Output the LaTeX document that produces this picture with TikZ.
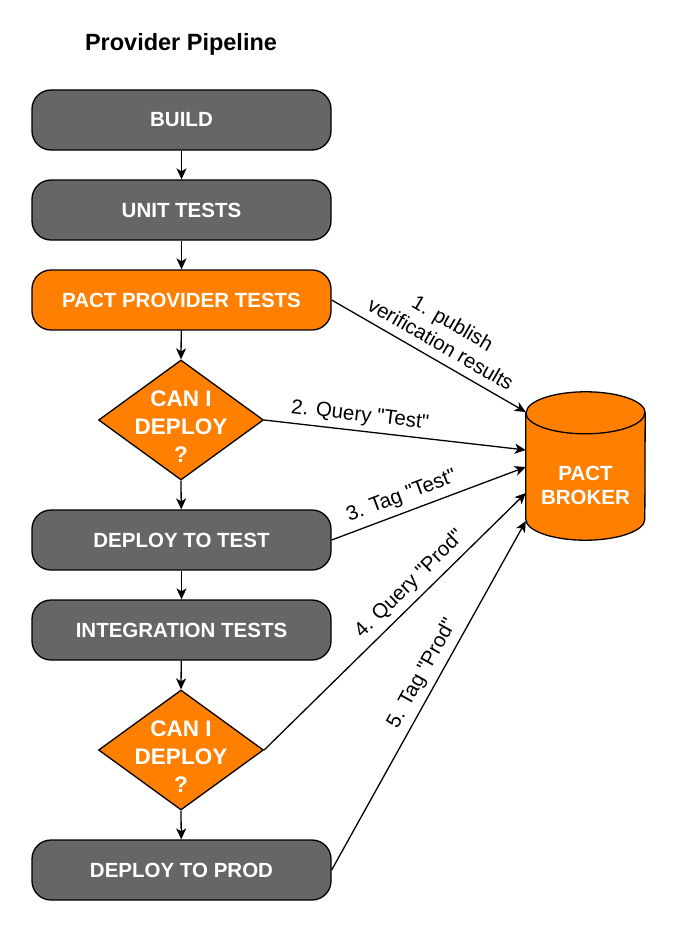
\documentclass[tikz,border=0pt]{standalone}
\usepackage{fontspec}
\setmainfont{Liberation Sans}
\newfontfamily\lblfont{Liberation Sans}
\usetikzlibrary{shapes.geometric,arrows.meta,calc}
\definecolor{pgray}{HTML}{666666}
\definecolor{porange}{HTML}{FF8000}
\begin{document}
\begin{tikzpicture}[x=1pt,y=1pt,
  box/.style={draw=black, line width=1.3pt, rounded corners=19pt, minimum width=299pt, minimum height=60pt, inner sep=0pt, text=white, font=\fontsize{20.5}{24}\selectfont\bfseries},
  grayb/.style={box, fill=pgray},
  orangeb/.style={box, fill=porange},
  dia/.style={diamond, draw=black, line width=1.3pt, fill=porange, minimum width=165pt, minimum height=120pt, inner sep=0pt},
  diatext/.style={text=white, align=center, font=\fontsize{22.5}{28}\selectfont\bfseries, inner sep=0pt},
  flow/.style={draw=black, line width=1.3pt, -{Stealth[length=11pt,width=10pt,inset=3pt]}},
  lbl/.style={font=\lblfont\fontsize{20.5}{24}\selectfont, sloped, inner sep=1pt}
]
\useasboundingbox[fill=white] (0,0) rectangle (677,-931);

\node[font=\fontsize{23.5}{28}\selectfont\bfseries] (title) at (181,-44) {Provider Pipeline};

\node[grayb] (build) at (181.5,-120) {BUILD};
\node[grayb] (unit) at (181.5,-210) {UNIT TESTS};
\node[orangeb] (pact) at (181.5,-300) {PACT PROVIDER TESTS};
\node[dia] (d1) at (181,-420) {};
\node[diatext] (d1t) at (181,-427) {CAN I\\DEPLOY\\?};
\node[grayb] (dtest) at (181.5,-540) {DEPLOY TO TEST};
\node[grayb] (integ) at (181.5,-630) {INTEGRATION TESTS};
\node[dia] (d2) at (181,-750) {};
\node[diatext] (d2t) at (181,-757) {CAN I\\DEPLOY\\?};
\node[grayb] (dprod) at (181.5,-870) {DEPLOY TO PROD};

% broker cylinder
\node[minimum width=119pt, minimum height=148pt, inner sep=0pt] (broker) at (585.5,-466) {};
\path[fill=porange, draw=black, line width=1.3pt]
  ([yshift=-21pt]broker.north west) -- ([yshift=21pt]broker.south west)
  arc[start angle=180, end angle=360, x radius=59.5pt, y radius=21pt]
  -- ([yshift=-21pt]broker.north east)
  arc[start angle=0, end angle=180, x radius=59.5pt, y radius=21pt] -- cycle;
\draw[line width=1.3pt] ([yshift=-21pt]broker.north west)
  arc[start angle=180, end angle=360, x radius=59.5pt, y radius=21pt];
\node[text=white, align=center, font=\fontsize{20.5}{24}\selectfont\bfseries, inner sep=0pt] (brokert) at (585.5,-485) {PACT\\BROKER};

% vertical flow
\draw[flow] (build) -- (unit);
\draw[flow] (unit) -- (pact);
\draw[flow] (pact) -- (d1.north);
\draw[flow] (d1.south) -- (dtest);
\draw[flow] (dtest) -- (integ);
\draw[flow] (integ) -- (d2.north);
\draw[flow] (d2.south) -- (dprod);

% broker connectors
\draw[flow] (pact.east) -- node[lbl, align=center, pos=0.52, above=7.5pt] (l1) {1. publish\\verification results} ([yshift=54pt]broker.west);
\draw[flow] (d1.east) -- node[lbl, pos=0.36, above=4pt] (l2) {2. Query "Test"} ([yshift=16pt]broker.west);
\draw[flow] (dtest.east) -- node[lbl, pos=0.39, above=5pt] (l3) {3. Tag "Test"} ([yshift=-1pt]broker.west);
\draw[flow] (d2.east) -- node[lbl, pos=0.6, above=5pt] (l4) {4. Query "Prod"} ([yshift=-27pt]broker.west);
\draw[flow] (dprod.east) -- node[lbl, pos=0.54, above=5pt] (l5) {5. Tag "Prod"} ([yshift=-55pt]broker.west);
\end{tikzpicture}
\end{document}
